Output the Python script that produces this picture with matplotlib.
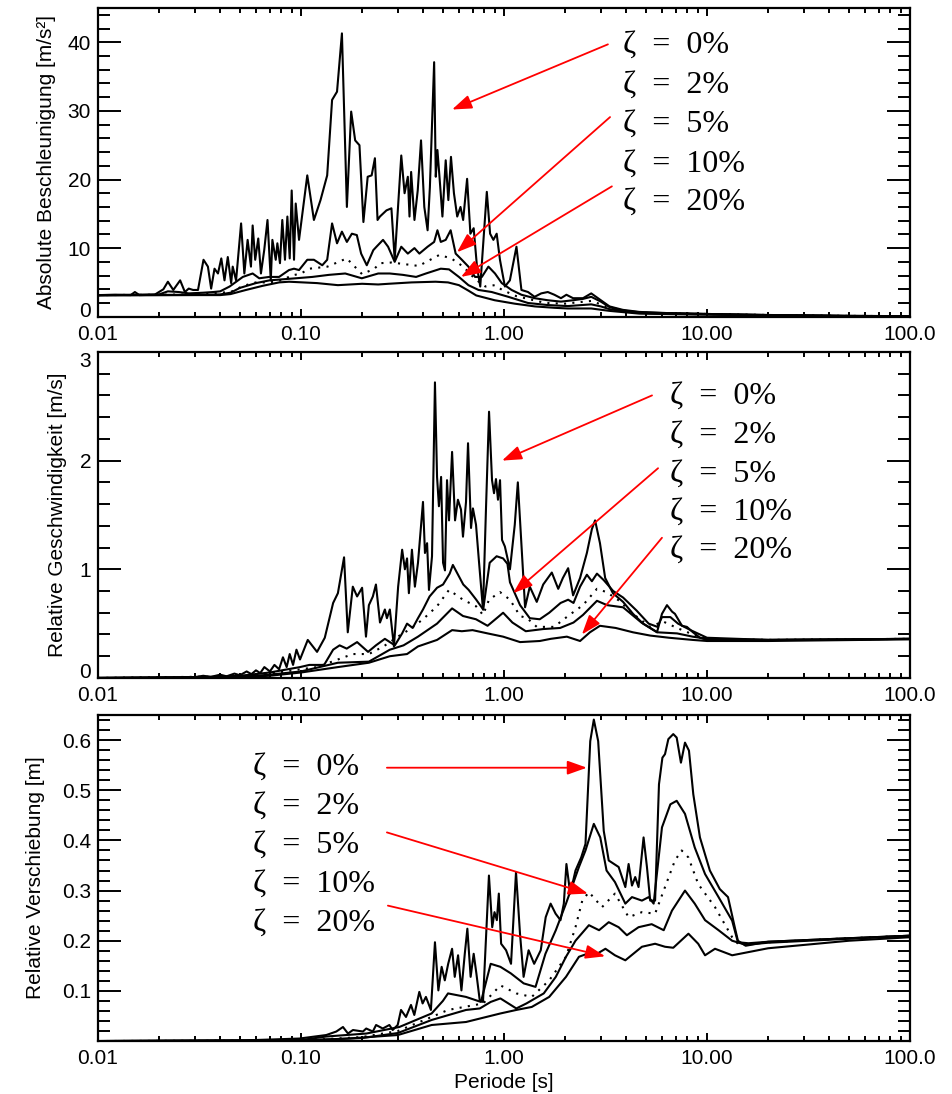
import numpy as np
import matplotlib.pyplot as plt
from matplotlib.ticker import LogLocator, NullFormatter, MultipleLocator

plt.rcParams['font.family'] = ['Liberation Sans', 'DejaVu Sans']

damping = [0, 2, 5, 10, 20]
zeta_labels = [f"ζ  =  {d}%" for d in damping]
styles = ["-", "-", (0, (1, 3)), "-", "-"]

x_ticks = [0.01, 0.1, 1, 10, 100]
x_tick_labels = ["0.01", "0.10", "1.00", "10.00", "100.0"]

# ---------------- Absolute Beschleunigung [m/s2] ----------------
acc_T0 = [0.01, 0.012, 0.0145, 0.0152, 0.016, 0.019, 0.021, 0.0221, 0.0235, 0.0254,
          0.0268, 0.028, 0.0294, 0.0311, 0.0331, 0.0348, 0.0361, 0.0375, 0.039, 0.0405,
          0.042, 0.0436, 0.0453, 0.0461, 0.0479, 0.0507, 0.0526, 0.0546, 0.0567, 0.0578,
          0.0595, 0.0616, 0.0635, 0.0659, 0.0684, 0.071, 0.0723, 0.0751, 0.0765, 0.0788,
          0.0809, 0.0834, 0.0857, 0.088, 0.09, 0.0924, 0.0942, 0.0978, 0.1074, 0.1158,
          0.1248, 0.1346, 0.1423, 0.1505, 0.1591, 0.1683, 0.1767, 0.1849, 0.1941, 0.203,
          0.2131, 0.2229, 0.2313, 0.2383, 0.2448, 0.2637, 0.2789, 0.2895, 0.3119, 0.3238,
          0.336, 0.3424, 0.3488, 0.3622, 0.3759, 0.3902, 0.405, 0.4204, 0.4315, 0.4528,
          0.4613, 0.47, 0.4825, 0.4974, 0.5163, 0.532, 0.5481, 0.5668, 0.5883, 0.6106,
          0.6292, 0.6581, 0.6831, 0.709, 0.736, 0.7639, 0.8229, 0.8542, 0.8866, 0.9203,
          0.9552, 1.0103, 1.069, 1.1519, 1.2185, 1.3131, 1.415, 1.525, 1.643, 1.771,
          1.908, 2.03, 2.19, 2.45, 2.69, 3.0, 3.31, 3.85, 4.64, 6.0,
          10.0, 20.0, 50.0, 100.0]
acc_z0 = [3.15, 3.2, 3.15, 3.6, 3.15, 3.2, 4.0, 5.1, 3.9, 5.3,
          3.6, 4.1, 3.9, 3.9, 8.3, 7.3, 4.1, 7.0, 6.3, 8.5,
          5.3, 8.7, 4.9, 7.3, 5.3, 13.6, 6.3, 11.2, 7.3, 13.3,
          8.3, 11.4, 6.3, 9.7, 14.1, 5.3, 11.2, 8.3, 10.7, 7.8,
          14.1, 8.3, 14.6, 8.5, 18.4, 8.3, 16.5, 11.2, 20.6, 14.1,
          17.0, 20.6, 31.6, 32.8, 41.3, 16.0, 29.9, 25.7, 25.0, 13.8,
          20.4, 20.6, 23.1, 14.1, 14.6, 15.5, 15.8, 8.3, 23.5, 18.0,
          20.4, 14.6, 21.1, 14.1, 18.4, 25.7, 16.0, 12.6, 18.9, 37.1,
          20.4, 24.3, 19.9, 14.6, 22.8, 17.0, 23.3, 18.0, 14.6, 16.0,
          14.1, 20.1, 12.1, 12.9, 7.3, 4.4, 18.2, 12.1, 11.2, 12.1,
          8.3, 4.4, 5.3, 10.2, 3.9, 3.6, 2.9, 3.4, 3.6, 3.2,
          2.7, 3.2, 2.7, 2.7, 3.4, 2.4, 1.5, 1.0, 0.7, 0.55,
          0.4, 0.25, 0.12, 0.08]

acc_T2 = [0.01, 0.015, 0.02, 0.0221, 0.025, 0.028, 0.033, 0.037, 0.04, 0.0445,
          0.0517, 0.0578, 0.0623, 0.0697, 0.078, 0.0873, 0.0924, 0.0978, 0.1074, 0.1158,
          0.1273, 0.1346, 0.1423, 0.1505, 0.1591, 0.1683, 0.1781, 0.1884, 0.1978, 0.2109,
          0.2271, 0.2354, 0.2536, 0.2686, 0.2895, 0.3119, 0.336, 0.3622, 0.383, 0.4204,
          0.4528, 0.47, 0.4882, 0.5163, 0.546, 0.578, 0.62, 0.668, 0.72, 0.778,
          0.838, 0.903, 0.975, 1.09, 1.219, 1.415, 1.643, 1.908, 2.19, 2.45,
          2.69, 3.0, 3.31, 3.85, 4.64, 6.0, 10.0, 20.0, 50.0, 100.0]
acc_z2 = [3.15, 3.2, 3.25, 3.7, 3.6, 3.4, 3.5, 3.6, 3.7, 4.4,
          5.8, 6.3, 5.6, 5.8, 5.8, 6.8, 7.0, 6.8, 8.3, 8.3,
          7.5, 8.3, 13.6, 10.7, 12.4, 10.9, 12.1, 11.9, 9.2, 7.5,
          9.7, 10.2, 11.2, 10.2, 8.0, 10.2, 9.2, 10.0, 9.2, 10.2,
          10.9, 12.6, 10.9, 11.2, 12.6, 9.2, 8.3, 7.3, 5.8, 5.8,
          7.3, 6.3, 4.9, 3.9, 3.2, 2.7, 2.4, 2.2, 2.4, 2.6,
          2.9, 2.2, 1.4, 0.9, 0.65, 0.55, 0.4, 0.25, 0.12, 0.08]

acc_T5 = [0.01, 0.02, 0.03, 0.045, 0.052, 0.06, 0.07, 0.08, 0.09, 0.1,
          0.11, 0.135, 0.168, 0.2, 0.23, 0.245, 0.28, 0.38, 0.48, 0.55,
          0.63, 0.72, 0.81, 0.9, 0.98, 1.15, 1.6, 2.0, 2.69, 3.0,
          3.31, 3.85, 4.64, 6.0, 10.0, 20.0, 50.0, 100.0]
acc_z5 = [3.15, 3.2, 3.25, 3.6, 4.5, 5.0, 5.0, 5.3, 6.0, 6.3,
          7.0, 7.3, 8.5, 6.2, 7.0, 7.8, 7.9, 7.4, 9.0, 8.5,
          7.3, 5.5, 4.4, 4.6, 3.9, 3.0, 2.0, 1.9, 2.3, 1.8,
          1.3, 0.85, 0.6, 0.5, 0.4, 0.25, 0.12, 0.08]

acc_T10 = [0.01, 0.03, 0.04, 0.045, 0.05, 0.06, 0.07, 0.0942, 0.1137, 0.1373,
           0.1652, 0.1993, 0.2401, 0.2738, 0.3178, 0.369, 0.4126, 0.4882, 0.5361, 0.5996,
           0.668, 0.749, 0.87, 1.05, 1.313, 1.643, 2.06, 2.69, 3.0, 3.31,
           3.85, 4.64, 6.0, 10.0, 20.0, 50.0, 100.0]
acc_z10 = [3.15, 3.2, 3.25, 3.5, 4.2, 4.9, 5.3, 5.6, 5.8, 6.1,
           6.3, 5.6, 6.3, 6.3, 6.1, 5.8, 6.3, 7.0, 6.9, 5.8,
           4.6, 3.9, 3.6, 2.9, 2.0, 1.7, 1.55, 1.8, 1.5, 1.1,
           0.8, 0.55, 0.45, 0.35, 0.22, 0.11, 0.07]

acc_T20 = [0.01, 0.03, 0.04, 0.045, 0.0536, 0.0647, 0.078, 0.0873, 0.12, 0.152,
           0.2, 0.24, 0.27, 0.35, 0.46, 0.53, 0.6, 0.668, 0.73, 0.9,
           1.13, 1.42, 1.77, 2.06, 2.69, 3.31, 4.64, 10.0, 20.0, 50.0,
           100.0]
acc_z20 = [3.1, 3.15, 3.15, 3.3, 3.9, 4.5, 5.0, 5.1, 4.9, 4.6,
           4.8, 4.7, 4.8, 5.0, 5.1, 5.0, 4.6, 3.8, 3.1, 2.4,
           1.9, 1.5, 1.3, 1.2, 1.2, 0.85, 0.45, 0.3, 0.18, 0.09,
           0.06]

# ---------------- Relative Geschwindigkeit [m/s] ----------------
vel_T0 = [0.01, 0.02, 0.03, 0.033, 0.036, 0.04, 0.043, 0.047, 0.05, 0.054,
          0.057, 0.06, 0.063, 0.066, 0.0703, 0.074, 0.078, 0.0815, 0.085, 0.088,
          0.0914, 0.095, 0.0989, 0.108, 0.12, 0.131, 0.144, 0.152, 0.163, 0.17,
          0.18, 0.189, 0.2, 0.209, 0.216, 0.226, 0.234, 0.245, 0.259, 0.265,
          0.274, 0.287, 0.301, 0.315, 0.325, 0.333, 0.34, 0.352, 0.364, 0.377,
          0.399, 0.408, 0.418, 0.427, 0.442, 0.457, 0.468, 0.478, 0.49, 0.501,
          0.512, 0.524, 0.536, 0.555, 0.574, 0.593, 0.614, 0.628, 0.65, 0.665,
          0.688, 0.703, 0.728, 0.753, 0.788, 0.815, 0.844, 0.873, 0.893, 0.913,
          0.934, 0.956, 0.978, 1.01, 1.07, 1.13, 1.17, 1.27, 1.34, 1.45,
          1.56, 1.72, 1.85, 1.95, 2.07, 2.19, 2.37, 2.56, 2.71, 2.81,
          2.97, 3.15, 3.44, 3.86, 4.32, 4.84, 5.67, 6.0, 6.35, 6.73,
          6.95, 7.53, 7.96, 8.53, 9.24, 10.0, 20.0, 50.0, 100.0]
vel_z0 = [0.0, 0.002, 0.008, 0.02, 0.01, 0.03, 0.015, 0.04, 0.025, 0.06,
          0.035, 0.07, 0.045, 0.1, 0.06, 0.12, 0.08, 0.19, 0.1, 0.22,
          0.12, 0.26, 0.17, 0.35, 0.24, 0.37, 0.69, 0.78, 1.11, 0.42,
          0.84, 0.75, 0.83, 0.38, 0.67, 0.75, 0.86, 0.51, 0.63, 0.55,
          0.63, 0.29, 0.84, 1.18, 1.0, 1.1, 0.78, 1.18, 0.84, 1.06,
          1.62, 1.15, 1.24, 0.81, 1.12, 2.72, 1.85, 1.58, 1.85, 1.06,
          0.99, 1.82, 1.45, 2.08, 1.45, 1.64, 1.55, 1.3, 1.62, 2.16,
          1.38, 1.56, 1.41, 1.07, 0.63, 1.55, 2.45, 1.82, 1.7, 1.83,
          1.64, 1.82, 1.27, 1.21, 1.0, 1.41, 1.8, 0.65, 0.84, 0.7,
          0.86, 0.97, 0.82, 0.92, 1.01, 0.76, 0.92, 1.15, 1.37, 1.45,
          1.24, 0.92, 0.78, 0.7, 0.59, 0.5, 0.42, 0.59, 0.67, 0.61,
          0.59, 0.48, 0.47, 0.42, 0.37, 0.35, 0.35, 0.355, 0.36]

vel_T2 = [0.01, 0.03, 0.05, 0.07, 0.0989, 0.11, 0.13, 0.144, 0.155, 0.168,
          0.189, 0.214, 0.234, 0.259, 0.29, 0.315, 0.333, 0.355, 0.377, 0.399,
          0.43, 0.468, 0.501, 0.54, 0.56, 0.59, 0.63, 0.67, 0.73, 0.79,
          0.85, 0.92, 0.99, 1.04, 1.07, 1.2, 1.34, 1.5, 1.67, 1.9,
          2.07, 2.2, 2.37, 2.56, 2.71, 2.87, 3.1, 3.45, 3.86, 4.5,
          5.16, 5.7, 6.0, 6.6, 7.2, 8.3, 10.0, 20.0, 50.0, 100.0]
vel_z2 = [0.0, 0.005, 0.02, 0.05, 0.1, 0.12, 0.12, 0.26, 0.3, 0.27,
          0.33, 0.24, 0.3, 0.36, 0.3, 0.41, 0.5, 0.46, 0.55, 0.63,
          0.75, 0.83, 0.86, 0.96, 1.04, 0.96, 0.86, 0.81, 0.72, 0.63,
          1.06, 1.12, 1.1, 1.05, 0.88, 0.67, 0.55, 0.54, 0.6, 0.69,
          0.72, 0.69, 0.84, 0.95, 0.89, 0.96, 0.9, 0.8, 0.74, 0.62,
          0.5, 0.47, 0.56, 0.56, 0.5, 0.44, 0.37, 0.35, 0.355, 0.36]

vel_T5 = [0.01, 0.05, 0.07, 0.1, 0.12, 0.152, 0.18, 0.216, 0.255, 0.3,
          0.345, 0.399, 0.468, 0.536, 0.628, 0.728, 0.788, 0.844, 0.956, 1.07,
          1.2, 1.3, 1.45, 1.75, 1.85, 2.1, 2.45, 2.87, 3.2, 3.7,
          4.32, 5.25, 6.07, 7.12, 8.53, 10.0, 20.0, 100.0]
vel_z5 = [0.0, 0.015, 0.04, 0.08, 0.1, 0.17, 0.22, 0.22, 0.29, 0.38,
          0.45, 0.54, 0.66, 0.81, 0.72, 0.66, 0.58, 0.72, 0.79, 0.72,
          0.57, 0.55, 0.47, 0.47, 0.5, 0.58, 0.67, 0.82, 0.79, 0.71,
          0.59, 0.47, 0.52, 0.46, 0.4, 0.36, 0.35, 0.36]

vel_T10 = [0.01, 0.05, 0.07, 0.1, 0.152, 0.216, 0.274, 0.32, 0.377, 0.468,
           0.555, 0.628, 0.728, 0.83, 0.934, 0.99, 1.1, 1.28, 1.56, 1.89,
           2.2, 2.45, 2.87, 3.22, 3.86, 4.75, 5.7, 7.12, 8.5, 10.0,
           20.0, 100.0]
vel_z10 = [0.0, 0.01, 0.03, 0.06, 0.14, 0.15, 0.26, 0.3, 0.38, 0.5,
           0.64, 0.57, 0.54, 0.48, 0.56, 0.6, 0.51, 0.43, 0.45, 0.46,
           0.51, 0.58, 0.71, 0.67, 0.65, 0.51, 0.42, 0.41, 0.38, 0.36,
           0.35, 0.36]

vel_T20 = [0.01, 0.05, 0.07, 0.1, 0.152, 0.216, 0.274, 0.333, 0.377, 0.468,
           0.555, 0.62, 0.7, 0.83, 0.99, 1.2, 1.5, 1.7, 2.04, 2.37,
           2.65, 2.97, 3.55, 4.32, 5.25, 6.5, 8.5, 10.0, 20.0, 100.0]
vel_z20 = [0.0, 0.008, 0.02, 0.05, 0.1, 0.14, 0.2, 0.22, 0.29, 0.35,
           0.44, 0.43, 0.44, 0.41, 0.38, 0.33, 0.34, 0.36, 0.38, 0.34,
           0.42, 0.48, 0.46, 0.42, 0.39, 0.37, 0.35, 0.34, 0.34, 0.355]

# ---------------- Relative Verschiebung [m] ----------------
dis_T0 = [0.01, 0.05, 0.0982, 0.1332, 0.1493, 0.161, 0.1704, 0.1803, 0.2019, 0.2096,
          0.2259, 0.2344, 0.2528, 0.2725, 0.283, 0.2995, 0.311, 0.3291, 0.3482, 0.3616,
          0.3827, 0.3973, 0.4125, 0.4365, 0.457, 0.475, 0.493, 0.511, 0.531, 0.555,
          0.572, 0.594, 0.617, 0.641, 0.66, 0.685, 0.709, 0.731, 0.759, 0.788,
          0.843, 0.875, 0.898, 0.922, 0.943, 0.968, 1.024, 1.083, 1.146, 1.199,
          1.249, 1.322, 1.408, 1.517, 1.605, 1.697, 1.795, 1.898, 1.971, 2.03,
          2.12, 2.25, 2.4, 2.52, 2.66, 2.77, 2.91, 3.1, 3.28, 3.67,
          3.96, 4.11, 4.27, 4.43, 4.6, 4.87, 5.06, 5.25, 5.55, 5.8,
          6.03, 6.21, 6.45, 6.82, 7.09, 7.44, 7.79, 8.15, 8.56, 9.23,
          10.33, 11.56, 12.69, 13.7, 14.2, 15.5, 20.0, 50.0, 100.0]
dis_z0 = [0.0, 0.001, 0.005, 0.012, 0.019, 0.028, 0.015, 0.022, 0.019, 0.025,
          0.019, 0.032, 0.025, 0.032, 0.022, 0.032, 0.062, 0.048, 0.072, 0.052,
          0.098, 0.075, 0.088, 0.062, 0.197, 0.101, 0.148, 0.121, 0.154, 0.184,
          0.128, 0.171, 0.101, 0.174, 0.224, 0.128, 0.174, 0.135, 0.082, 0.078,
          0.33, 0.227, 0.257, 0.241, 0.294, 0.194, 0.181, 0.154, 0.337, 0.214,
          0.128, 0.181, 0.154, 0.181, 0.247, 0.274, 0.254, 0.241, 0.274, 0.353,
          0.294, 0.34, 0.366, 0.393, 0.598, 0.641, 0.598, 0.419, 0.36, 0.347,
          0.307, 0.353, 0.31, 0.327, 0.307, 0.406, 0.347, 0.28, 0.28, 0.512,
          0.565, 0.572, 0.602, 0.612, 0.605, 0.555, 0.595, 0.579, 0.492, 0.406,
          0.34, 0.303, 0.287, 0.227, 0.2, 0.19, 0.198, 0.205, 0.21]

dis_T2 = [0.01, 0.1, 0.133, 0.21, 0.305, 0.4, 0.44, 0.5, 0.53, 0.65,
          0.77, 0.86, 0.96, 1.08, 1.25, 1.43, 1.6, 1.8, 2.02, 2.34,
          2.52, 2.77, 2.98, 3.2, 3.52, 3.96, 4.27, 4.78, 5.16, 5.46,
          6.0, 6.6, 7.09, 7.79, 8.7, 9.78, 11.4, 13.3, 14.2, 16.0,
          20.0, 50.0, 100.0]
dis_z2 = [0.0, 0.002, 0.009, 0.015, 0.028, 0.048, 0.055, 0.08, 0.095, 0.088,
          0.078, 0.154, 0.148, 0.135, 0.115, 0.108, 0.174, 0.221, 0.274, 0.347,
          0.38, 0.433, 0.406, 0.34, 0.317, 0.274, 0.287, 0.28, 0.287, 0.274,
          0.426, 0.472, 0.479, 0.453, 0.386, 0.333, 0.287, 0.24, 0.197, 0.195,
          0.198, 0.205, 0.21]

dis_T5 = [0.01, 0.1, 0.2, 0.3, 0.44, 0.53, 0.79, 0.96, 1.15, 1.37,
          1.67, 2.02, 2.25, 2.43, 2.62, 3.04, 3.52, 4.11, 4.78, 5.55,
          6.21, 6.95, 7.5, 8.1, 9.05, 10.95, 13.3, 14.2, 16.0, 20.0,
          50.0, 100.0]
dis_z5 = [0.0, 0.001, 0.008, 0.02, 0.048, 0.062, 0.075, 0.111, 0.095, 0.088,
          0.121, 0.168, 0.227, 0.28, 0.297, 0.267, 0.294, 0.247, 0.257, 0.254,
          0.307, 0.36, 0.38, 0.366, 0.313, 0.267, 0.207, 0.194, 0.193, 0.197,
          0.205, 0.21]

dis_T10 = [0.01, 0.1, 0.2, 0.3, 0.44, 0.65, 0.76, 0.86, 0.96, 1.15,
           1.29, 1.57, 1.8, 2.02, 2.25, 2.62, 2.94, 3.28, 3.67, 4.03,
           4.6, 5.34, 6.12, 6.72, 7.79, 8.7, 9.78, 11.4, 13.3, 15.5,
           20.0, 50.0, 100.0]
dis_z10 = [0.0, 0.001, 0.006, 0.016, 0.042, 0.062, 0.065, 0.078, 0.085, 0.065,
           0.075, 0.095, 0.128, 0.168, 0.2, 0.231, 0.221, 0.237, 0.227, 0.211,
           0.227, 0.233, 0.221, 0.26, 0.3, 0.274, 0.241, 0.221, 0.2, 0.192,
           0.196, 0.204, 0.21]

dis_T20 = [0.01, 0.1, 0.17, 0.3, 0.44, 0.65, 0.96, 1.15, 1.37, 1.67,
           2.02, 2.34, 2.57, 2.82, 3.16, 3.52, 3.96, 4.78, 5.55, 6.21,
           6.82, 8.1, 9.05, 9.78, 10.95, 13.3, 20.0, 50.0, 100.0]
dis_z20 = [0.0, 0.001, 0.005, 0.012, 0.032, 0.038, 0.055, 0.062, 0.068, 0.088,
           0.128, 0.168, 0.174, 0.172, 0.184, 0.171, 0.161, 0.188, 0.194, 0.188,
           0.186, 0.214, 0.194, 0.171, 0.184, 0.171, 0.185, 0.2, 0.207]

panels = [
    dict(series=[(acc_T0, acc_z0), (acc_T2, acc_z2), (acc_T5, acc_z5),
                 (acc_T10, acc_z10), (acc_T20, acc_z20)],
         ylabel="Absolute Beschleunigung [m/s²]", ylim=(0, 45),
         yticks=[0, 10, 20, 30, 40], yticklabels=["0", "10", "20", "30", "40"],
         yminor=2, ylabel_x=-0.0628,
         pos=[0.1028, 0.7105, 0.8521, 0.2822],
         text_x=3.86, text_y=[0.854, 0.725, 0.598, 0.469, 0.346],
         arrows=[((3.25, 39.7), (0.555, 30.2)),
                 ((3.33, 29.1), (0.587, 9.4)),
                 ((3.4, 19.0), (0.614, 5.8))]),
    dict(series=[(vel_T0, vel_z0), (vel_T2, vel_z2), (vel_T5, vel_z5),
                 (vel_T10, vel_z10), (vel_T20, vel_z20)],
         ylabel="Relative Geschwindigkeit [m/s]", ylim=(0, 3),
         yticks=[0, 1, 2, 3], yticklabels=["0", "1", "2", "3"],
         yminor=0.2, ylabel_x=-0.0493,
         pos=[0.1028, 0.3803, 0.8521, 0.2980],
         text_x=6.58, text_y=[0.840, 0.721, 0.601, 0.485, 0.368],
         arrows=[((5.36, 2.6), (0.978, 2.0)),
                 ((5.74, 1.93), (1.11, 0.78)),
                 ((6.0, 1.29), (2.42, 0.40))]),
    dict(series=[(dis_T0, dis_z0), (dis_T2, dis_z2), (dis_T5, dis_z5),
                 (dis_T10, dis_z10), (dis_T20, dis_z20)],
         ylabel="Relative Verschiebung [m]", ylim=(0, 0.65),
         yticks=[0.1, 0.2, 0.3, 0.4, 0.5, 0.6],
         yticklabels=["0.1", "0.2", "0.3", "0.4", "0.5", "0.6"],
         yminor=0.02, ylabel_x=-0.0764,
         pos=[0.1028, 0.0484, 0.8521, 0.2980],
         text_x=0.058, text_y=[0.816, 0.696, 0.577, 0.457, 0.337],
         arrows=[((0.265, 0.545), (2.56, 0.545)),
                 ((0.265, 0.416), (2.59, 0.294)),
                 ((0.268, 0.27), (3.15, 0.169))]),
]

fig = plt.figure(figsize=(9.53, 10.94), dpi=100)

for i, p in enumerate(panels):
    ax = fig.add_axes(p["pos"])
    for (T, v), ls in zip(p["series"], styles):
        ax.plot(T, v, color="black", lw=1.5, ls=ls)

    ax.set_xscale("log")
    ax.set_xlim(0.01, 100)
    ax.set_ylim(*p["ylim"])
    ax.set_xticks(x_ticks)
    ax.set_xticklabels(x_tick_labels)
    ax.xaxis.set_minor_locator(LogLocator(base=10, subs=range(2, 10), numticks=20))
    ax.xaxis.set_minor_formatter(NullFormatter())
    ax.set_yticks(p["yticks"])
    ax.set_yticklabels(p["yticklabels"])
    ax.yaxis.set_minor_locator(MultipleLocator(p["yminor"]))

    # keep end labels inside the axis range (as in the original)
    yt = ax.yaxis.get_major_ticks()
    if p["yticks"][0] == p["ylim"][0]:
        yt[0].label1.set_va("baseline")
    if p["yticks"][-1] == p["ylim"][1]:
        yt[-1].label1.set_va("top")

    ax.tick_params(axis="both", which="both", direction="in", top=True, right=True,
                   labelsize=15, colors="black", width=1.4)
    ax.tick_params(axis="x", which="major", length=6, pad=6)
    ax.tick_params(axis="x", which="minor", length=3.5)
    ax.tick_params(axis="y", which="major", length=16.5, pad=5)
    ax.tick_params(axis="y", which="minor", length=8.5)
    for sp in ax.spines.values():
        sp.set_linewidth(1.6)

    ax.set_ylabel(p["ylabel"], fontsize=15, va="center")
    ax.yaxis.set_label_coords(p["ylabel_x"], 0.5)

    tr = ax.get_xaxis_transform()
    for lab, ty in zip(zeta_labels, p["text_y"]):
        ax.text(p["text_x"], ty, lab, transform=tr, fontsize=23,
                family=["Liberation Serif", "DejaVu Serif"], va="baseline", ha="left")

    for tail, head in p["arrows"]:
        ax.annotate("", xy=head, xytext=tail,
                    arrowprops=dict(arrowstyle="-|>,head_length=0.7,head_width=0.25",
                                    color="red", lw=1.3, mutation_scale=17,
                                    shrinkA=0, shrinkB=0))

    if i == 2:
        ax.set_xlabel("Periode [s]", fontsize=15, va="center")
        ax.xaxis.set_label_coords(0.5, -0.126)

fig.savefig("out.png", dpi=100)
